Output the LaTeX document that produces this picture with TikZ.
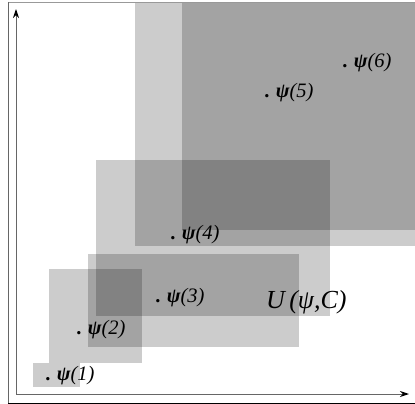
\documentclass[tikz,border=0pt]{standalone}
\usepackage{fontspec}
\setmainfont{Liberation Serif}
\usetikzlibrary{arrows.meta}
\newcommand{\psilab}[1]{\textbf{.}\hspace{5.5pt}\textbf{ψ}(#1)}
\begin{document}
\begin{tikzpicture}[x=1pt,y=-1pt,
  region/.style={fill=black,fill opacity=0.2,draw=none},
  lab/.style={anchor=base west,inner sep=0pt,font=\fontsize{20.5}{22}\selectfont\itshape},
  axis/.style={draw=black!60,line width=1pt,-{Stealth[length=9pt,width=6pt,black]}}]
\useasboundingbox (0,0) rectangle (415,404);
\fill[white] (0,0) rectangle (415,404);
% regions
\fill[region] (33,363) rectangle (80,387);
\fill[region] (49,269) rectangle (142,363);
\fill[region] (88,254) rectangle (299,347);
\fill[region] (96,160) rectangle (330,316);
\fill[region] (135,3) rectangle (415,246);
\fill[region] (182,3) rectangle (415,230);
% frame
\draw[black!40,line width=0.7pt] (415,2) -- (8,2);
\draw[black!60,line width=0.8pt] (8,2) -- (8,403);
\draw[black,line width=1.2pt] (8,403.4) -- (415,403.4);
% axes
\coordinate (o) at (16,394);
\coordinate (ytip) at (16,9);
\coordinate (xtip) at (409,394);
\draw[axis] (o) -- (ytip);
\draw[axis] (o) -- (xtip);
% labels
\node[lab] (p1) at (46,380) {\psilab{1}};
\node[lab] (p2) at (77,334) {\psilab{2}};
\node[lab] (p3) at (156,302) {\psilab{3}};
\node[lab] (p4) at (171,239) {\psilab{4}};
\node[lab] (p5) at (265,97) {\psilab{5}};
\node[lab] (p6) at (343,67) {\psilab{6}};
\node[anchor=base west,inner sep=0pt,font=\fontsize{26}{28}\selectfont\itshape] (u) at (266,308) {U\,(ψ,C)};
\end{tikzpicture}
\end{document}
